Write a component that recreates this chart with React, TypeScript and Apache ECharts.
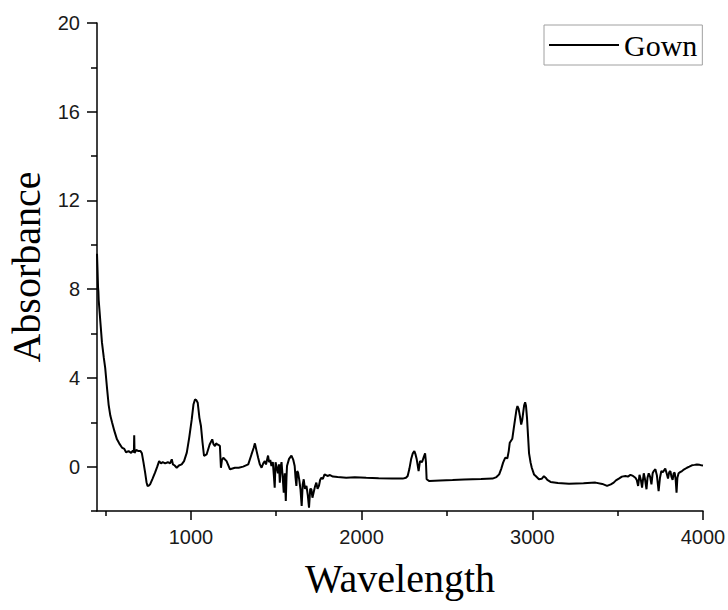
import React, { useEffect, useRef } from "react";
import * as echarts from "echarts";

const wavenumbers = [
  450, 453, 456, 458, 460, 470, 479, 490, 498, 508, 518, 528, 538, 552, 567, 580, 596, 610, 620, 635,
  650, 660, 666, 668, 670, 680, 693, 705, 713, 722, 732, 740, 746, 754, 761, 775, 790, 803, 814, 825,
  835, 849, 865, 878, 888, 895, 905, 917, 930, 946, 960, 976, 990, 1005, 1015, 1024, 1032, 1040, 1050, 1059,
  1068, 1077, 1092, 1110, 1125, 1133, 1141, 1148, 1155, 1163, 1170, 1176, 1182, 1190, 1209, 1220, 1229, 1258, 1280, 1306,
  1336, 1355, 1368, 1375, 1385, 1394, 1404, 1414, 1424, 1433, 1440, 1452, 1458, 1465, 1472, 1480, 1486, 1491, 1496, 1501,
  1510, 1516, 1521, 1526, 1531, 1538, 1544, 1550, 1556, 1560, 1563, 1575, 1589, 1600, 1608, 1613, 1618, 1623, 1628, 1635,
  1642, 1649, 1655, 1661, 1668, 1677, 1685, 1692, 1699, 1706, 1712, 1719, 1727, 1735, 1742, 1750, 1757, 1764, 1773, 1783,
  1800, 1815, 1832, 1860, 1910, 1960, 2027, 2100, 2180, 2241, 2260, 2270, 2280, 2290, 2300, 2309, 2316, 2323, 2334, 2342,
  2354, 2365, 2372, 2377, 2381, 2397, 2460, 2533, 2600, 2700, 2767, 2790, 2806, 2818, 2829, 2841, 2854, 2862, 2868, 2883,
  2891, 2899, 2907, 2913, 2920, 2927, 2935, 2941, 2946, 2952, 2958, 2963, 2969, 2975, 2981, 2990, 2997, 3010, 3020, 3039,
  3055, 3068, 3078, 3088, 3107, 3150, 3215, 3300, 3370, 3410, 3438, 3460, 3477, 3490, 3507, 3525, 3546, 3560, 3575, 3590,
  3604, 3612, 3620, 3628, 3636, 3643, 3653, 3660, 3669, 3675, 3682, 3690, 3698, 3705, 3711, 3721, 3730, 3740, 3748, 3756,
  3765, 3779, 3787, 3795, 3802, 3809, 3815, 3822, 3828, 3834, 3840, 3845, 3850, 3857, 3866, 3877, 3890, 3906, 3920, 3935,
  3950, 3964, 3980, 3990, 4000,
];

const absorbance = [
  9.6, 8.9, 8.1, 7.9, 7.5, 6.5, 5.6, 4.9, 4.45, 3.6, 2.8, 2.3, 2.0, 1.6, 1.23, 1.05, 0.86, 0.8, 0.65, 0.7,
  0.62, 0.72, 0.65, 1.41, 0.62, 0.75, 0.7, 0.7, 0.6, 0.2, -0.27, -0.7, -0.87, -0.85, -0.8, -0.55, -0.27, 0.0, 0.25, 0.15,
  0.2, 0.15, 0.2, 0.15, 0.33, 0.1, 0.05, -0.05, 0.05, 0.1, 0.25, 0.63, 1.3, 2.13, 2.8, 3.03, 3.0, 2.88, 2.2, 1.83,
  1.1, 0.48, 0.55, 1.0, 1.23, 1.0, 0.93, 1.05, 1.0, 0.98, 0.93, -0.05, 0.3, 0.4, 0.25, 0.05, -0.12, -0.05, -0.05, 0.0,
  0.1, 0.55, 0.85, 1.05, 0.7, 0.4, 0.1, -0.05, 0.15, 0.25, 0.1, 0.5, 0.2, 0.3, 0.03, 0.2, -0.4, -0.95, 0.2, 0.03,
  -0.3, 0.1, -0.72, 0.0, 0.2, -0.5, -1.17, -0.3, -1.55, -0.5, 0.03, 0.35, 0.5, 0.3, 0.03, -0.5, -0.87, -0.2, -0.27, -0.6,
  -1.02, -1.77, -0.8, -0.57, -1.0, -0.87, -1.3, -1.85, -1.0, -1.02, -1.4, -1.17, -0.9, -0.72, -1.0, -0.87, -0.6, -0.5, -0.55, -0.35,
  -0.42, -0.38, -0.45, -0.47, -0.5, -0.48, -0.5, -0.52, -0.53, -0.54, -0.5, -0.42, -0.1, 0.33, 0.6, 0.7, 0.55, 0.33, -0.2, 0.25,
  0.2, 0.45, 0.6, 0.2, -0.57, -0.65, -0.62, -0.6, -0.58, -0.56, -0.54, -0.47, -0.35, -0.1, 0.18, 0.4, 0.38, 0.7, 1.08, 1.26,
  1.7, 2.13, 2.55, 2.73, 2.6, 2.3, 1.9, 2.1, 2.4, 2.75, 2.9, 2.75, 2.2, 1.4, 0.6, 0.18, -0.05, -0.35, -0.42, -0.57,
  -0.55, -0.43, -0.5, -0.6, -0.69, -0.74, -0.77, -0.75, -0.72, -0.78, -0.87, -0.8, -0.72, -0.62, -0.54, -0.45, -0.42, -0.45, -0.37, -0.42,
  -0.5, -0.6, -0.87, -0.37, -0.6, -0.95, -0.3, -0.55, -1.02, -0.5, -0.3, -0.45, -0.8, -0.3, -0.2, -0.12, -0.4, -1.1, -0.5, -0.2,
  -0.25, -0.09, -0.3, -0.54, -0.25, -0.2, -0.45, -0.6, -0.3, -0.27, -0.6, -1.17, -0.5, -0.3, -0.25, -0.2, -0.12, -0.05, 0.0, 0.06,
  0.08, 0.1, 0.08, 0.06, 0.05,
];

const xMajorTicks = [1000, 2000, 3000, 4000];
const xMinorTicks = [500, 1500, 2500, 3500];
const yMajorTicks = [0, 4, 8, 12, 16, 20];
const yMinorTicks = [-2, 2, 6, 10, 14, 18];

const seriesName = "Gown";
const xTitle = "Wavelength";
const yTitle = "Absorbance";

export default function App() {
  const ref = useRef<HTMLDivElement>(null);

  useEffect(() => {
    if (!ref.current) return;
    const chart = echarts.init(ref.current, null, { renderer: "svg" });
    const axisLineStyle = { color: "#000", width: 1.5 };
    const labelStyle = {
      fontSize: 20,
      fontFamily: "Liberation Sans, Arial, sans-serif",
      color: "#1a1a1a",
    };
    const nameStyle = {
      fontSize: 40,
      fontFamily: "Liberation Serif, Times New Roman, serif",
      color: "#000",
    };
    const data = wavenumbers.map((w, i) => [w, absorbance[i]]);
    const plain = (v: number) => String(v);

    chart.setOption({
      animation: false,
      backgroundColor: "#fff",
      grid: {
        left: 97,
        right: 25,
        top: 23,
        bottom: 99,
        containLabel: false,
        outerBoundsMode: "none",
      },
      legend: {
        data: [{ name: seriesName, icon: "rect" }],
        left: 544,
        top: 25,
        itemWidth: 70,
        itemHeight: 2,
        padding: [5, 5, 5, 5],
        borderColor: "#a0a0a0",
        borderWidth: 1,
        itemStyle: { color: "#000" },
        textStyle: {
          fontSize: 30,
          fontFamily: "Liberation Serif, Times New Roman, serif",
          color: "#000",
        },
      },
      xAxis: [
        {
          type: "value",
          min: 450,
          max: 4000,
          position: "bottom",
          name: xTitle,
          nameLocation: "middle",
          nameGap: 47,
          nameTextStyle: nameStyle,
          axisLine: { show: true, onZero: false, lineStyle: axisLineStyle },
          axisTick: { show: true, customValues: xMajorTicks, length: 9, lineStyle: axisLineStyle },
          axisLabel: { customValues: xMajorTicks, margin: 16, formatter: plain, ...labelStyle },
          splitLine: { show: false },
        },
        {
          type: "value",
          min: 450,
          max: 4000,
          position: "bottom",
          axisLine: { show: false, onZero: false },
          axisTick: { show: true, customValues: xMinorTicks, length: 5, lineStyle: axisLineStyle },
          axisLabel: { show: false },
          splitLine: { show: false },
        },
      ],
      yAxis: [
        {
          type: "value",
          min: -2,
          max: 20,
          position: "left",
          name: yTitle,
          nameLocation: "middle",
          nameGap: 47,
          nameTextStyle: nameStyle,
          axisLine: { show: true, onZero: false, lineStyle: axisLineStyle },
          axisTick: { show: true, customValues: yMajorTicks, length: 10, lineStyle: axisLineStyle },
          axisLabel: { customValues: yMajorTicks, margin: 17, formatter: plain, ...labelStyle },
          splitLine: { show: false },
        },
        {
          type: "value",
          min: -2,
          max: 20,
          position: "left",
          axisLine: { show: false, onZero: false },
          axisTick: { show: true, customValues: yMinorTicks, length: 6, lineStyle: axisLineStyle },
          axisLabel: { show: false },
          splitLine: { show: false },
        },
      ],
      series: [
        {
          name: seriesName,
          type: "line",
          xAxisIndex: 0,
          yAxisIndex: 0,
          data,
          symbol: "none",
          smooth: false,
          lineStyle: { color: "#000", width: 2 },
          itemStyle: { color: "#000" },
        },
      ],
    });

    return () => chart.dispose();
  }, []);

  return (
    <div
      ref={ref}
      style={{ position: "fixed", left: 0, top: 0, width: 728, height: 610, background: "#fff" }}
    />
  );
}
